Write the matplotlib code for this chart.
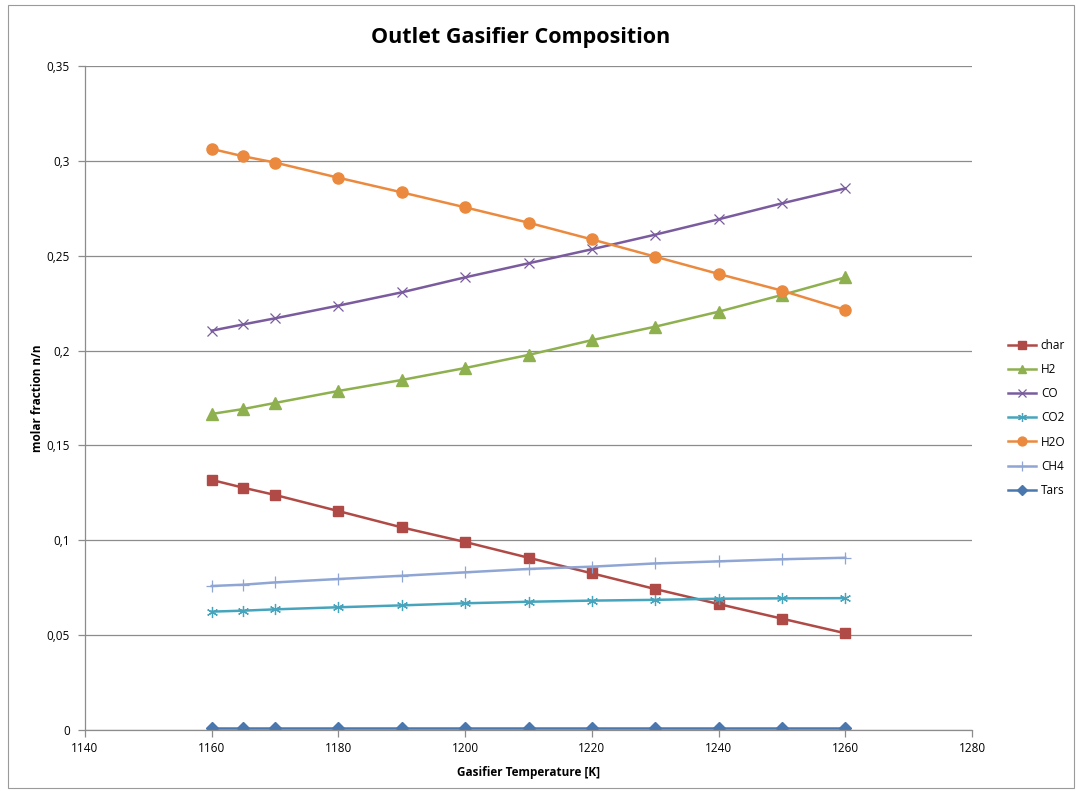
import matplotlib
matplotlib.use("Agg")
import matplotlib.pyplot as plt
from matplotlib.patches import Rectangle
from matplotlib.ticker import FuncFormatter, MultipleLocator

# Gasifier temperature [K]
temperature = [1160, 1165, 1170, 1180, 1190, 1200, 1210, 1220, 1230, 1240, 1250, 1260]

# Outlet molar fractions
char = [0.1318, 0.1277, 0.1239, 0.1154, 0.1068, 0.0991, 0.0908, 0.0826, 0.0743, 0.0664, 0.0587, 0.0510]
h2 = [0.1666, 0.1692, 0.1724, 0.1787, 0.1845, 0.1908, 0.1977, 0.2055, 0.2126, 0.2205, 0.2293, 0.2386]
co = [0.2105, 0.2138, 0.2170, 0.2237, 0.2307, 0.2386, 0.2460, 0.2534, 0.2611, 0.2692, 0.2776, 0.2855]
co2 = [0.0624, 0.0629, 0.0636, 0.0647, 0.0657, 0.0668, 0.0676, 0.0682, 0.0686, 0.0692, 0.0694, 0.0695]
h2o = [0.3063, 0.3024, 0.2991, 0.2911, 0.2834, 0.2755, 0.2674, 0.2586, 0.2495, 0.2404, 0.2316, 0.2214]
ch4 = [0.0759, 0.0766, 0.0778, 0.0796, 0.0813, 0.0831, 0.0849, 0.0861, 0.0878, 0.0889, 0.0900, 0.0908]
tars = [0.0010, 0.0010, 0.0010, 0.0010, 0.0010, 0.0010, 0.0010, 0.0010, 0.0010, 0.0010, 0.0010, 0.0010]

series_names = ["char", "H2", "CO", "CO2", "H2O", "CH4", "Tars"]

plt.rcParams["font.family"] = ["Open Sans", "DejaVu Sans"]

W, H = 1077, 791
fig = plt.figure(figsize=(W / 100, H / 100), dpi=100)
fig.patch.set_facecolor("white")

# chart frame
fig.add_artist(Rectangle((8 / W, 3 / H), (W - 11) / W, (H - 8) / H,
                         transform=fig.transFigure, fill=False,
                         edgecolor="#9a9a9a", linewidth=0.8))

ax = fig.add_axes([85 / W, (H - 730) / H, (972 - 85) / W, (730 - 66) / H])

styles = [
    dict(color="#B04A46", marker="s", ms=7.5, mec="#B04A46"),
    dict(color="#8EB04E", marker="^", ms=8, mec="#8EB04E"),
    dict(color="#7A5C9E", marker="x", ms=7, mew=0.9),
    dict(color="#46A5BD", marker=(6, 2, 0), ms=8, mew=0.9),
    dict(color="#EB8A3E", marker="o", ms=8, mec="#EB8A3E"),
    dict(color="#8FA6D4", marker="+", ms=9, mew=0.9),
    dict(color="#4A78AE", marker="D", ms=6, mec="#4A78AE"),
]
data = [char, h2, co, co2, h2o, ch4, tars]

handles = []
for name, ys, st in zip(series_names, data, styles):
    ln, = ax.plot(temperature, ys, linewidth=1.8, label=name, **st)
    handles.append(ln)

ax.set_xlim(1140, 1280)
ax.set_ylim(0, 0.35)
ax.xaxis.set_major_locator(MultipleLocator(20))
ax.yaxis.set_major_locator(MultipleLocator(0.05))


def comma_fmt(v, pos):
    s = f"{v:.2f}".rstrip("0").rstrip(".")
    return s.replace(".", ",")


ax.yaxis.set_major_formatter(FuncFormatter(comma_fmt))
ax.grid(axis="y", color="#8c8c8c", linewidth=0.9)
ax.set_axisbelow(True)
for s in ["top", "right"]:
    ax.spines[s].set_visible(False)
for s in ["left", "bottom"]:
    ax.spines[s].set_color("#8c8c8c")
    ax.spines[s].set_linewidth(0.9)
ax.tick_params(axis="both", colors="#8c8c8c", labelcolor="black",
               labelsize=8.5, length=5, width=0.9)
ax.tick_params(axis="y", pad=6)

ax.set_xlabel("Gasifier Temperature [K]", fontsize=8.5, fontweight="bold", labelpad=8)
ax.set_ylabel("molar fraction n/n", fontsize=8.5, fontweight="bold", labelpad=2)
fig.text(521 / W, 1 - 38 / H, "Outlet Gasifier Composition", ha="center", va="center",
         fontsize=15.5, fontweight="bold")

leg = fig.legend(handles=handles, loc="upper left", bbox_to_anchor=(1003 / W, 1 - 334 / H),
                 frameon=False, fontsize=8.5, handlelength=2.4, labelspacing=0.95,
                 handletextpad=0.4, borderaxespad=0, markerscale=0.8)

fig.savefig("out.png", dpi=100, facecolor="white")
